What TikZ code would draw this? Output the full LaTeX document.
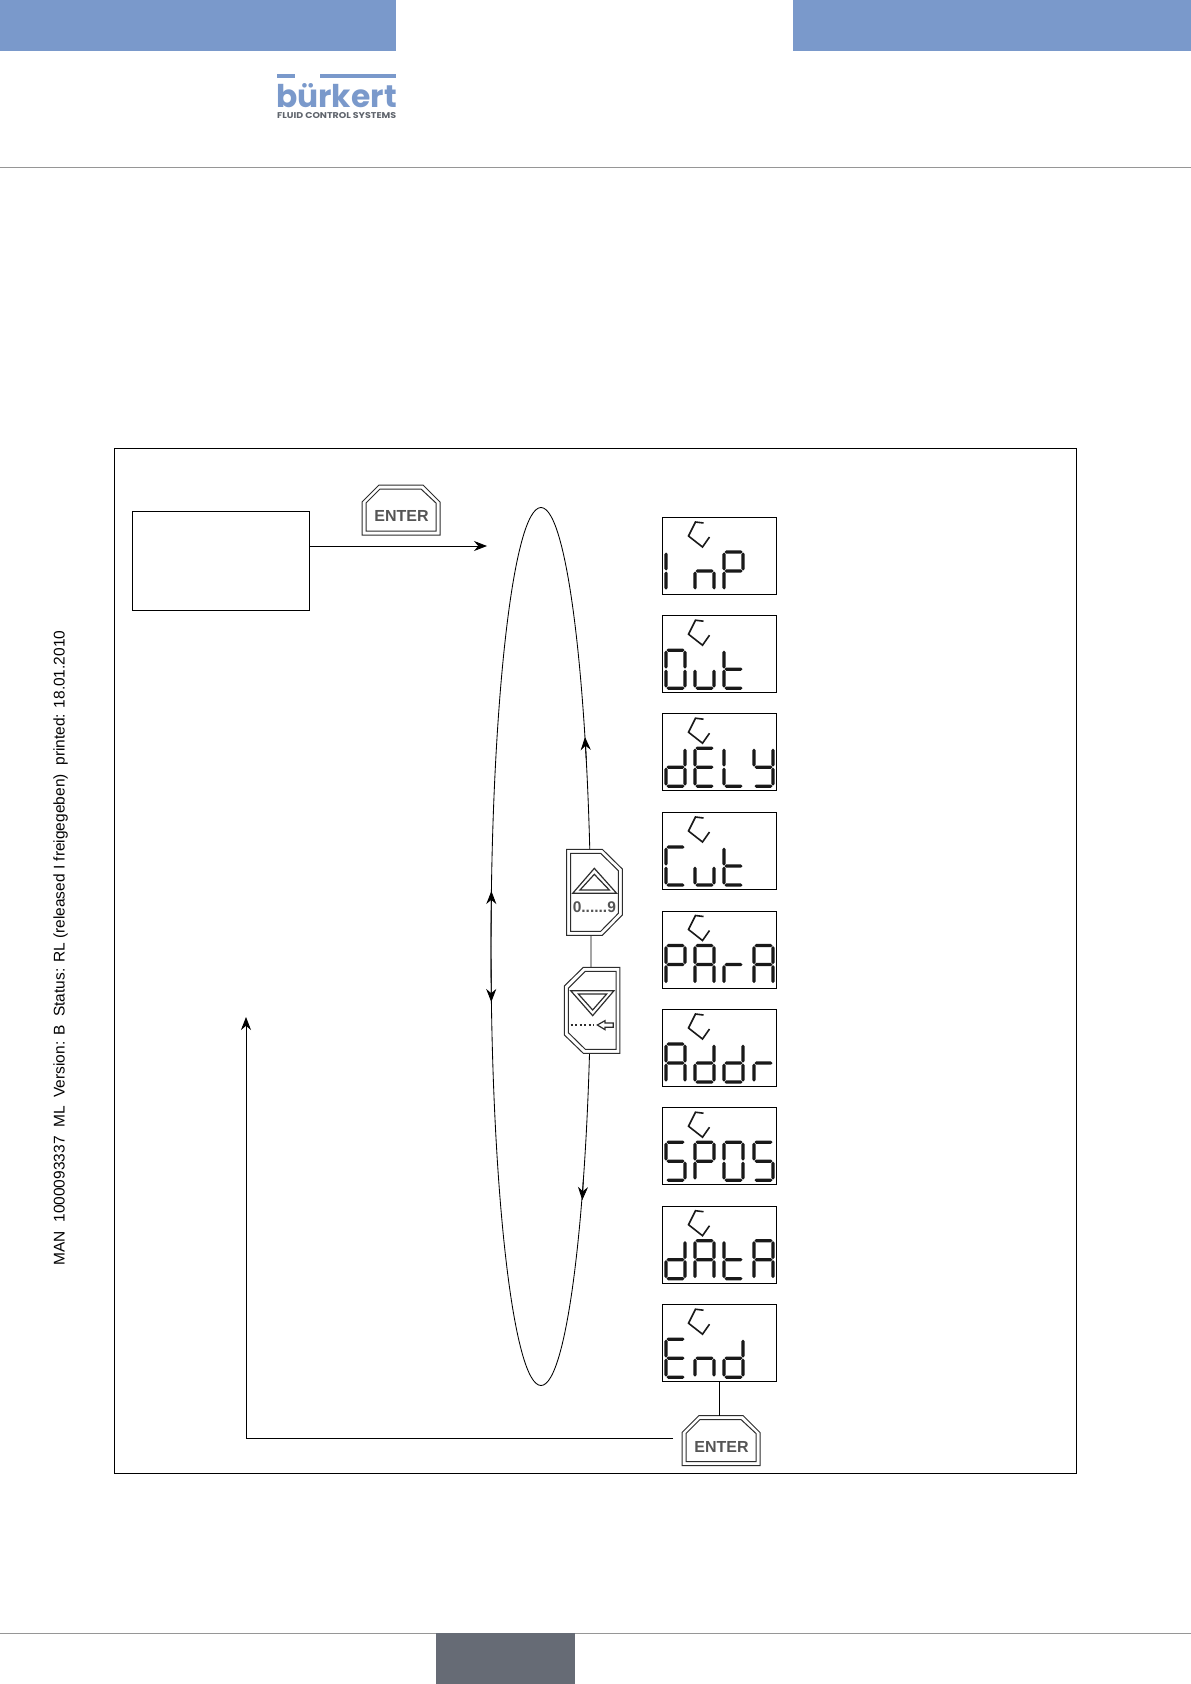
\documentclass[tikz,border=0pt]{standalone}
\usepackage{fontspec}
\setmainfont{Liberation Sans}
\newfontfamily\logofont{Poppins}
\usetikzlibrary{arrows.meta,shapes.geometric}
\definecolor{hdrblue}{RGB}{122,153,203}
\definecolor{ftrgray}{RGB}{102,107,117}
\definecolor{rulegray}{RGB}{150,150,150}
\definecolor{keyink}{RGB}{45,45,45}
\definecolor{keyletter}{RGB}{85,85,85}
\definecolor{seg}{RGB}{25,25,25}
\definecolor{logogray}{RGB}{95,100,108}
% seven-segment elements: width 20, rows at 34, 54, 73 from the display's top
\newcommand{\segH}[3]{\fill[seg] (#1,#3) -- ({#1+1.7},{#3-1.7}) -- ({#2-1.7},{#3-1.7}) -- (#2,#3) -- ({#2-1.7},{#3+1.7}) -- ({#1+1.7},{#3+1.7}) -- cycle;}
\newcommand{\segV}[3]{\fill[seg] (#1,#2) -- ({#1+1.7},{#2+1.7}) -- ({#1+1.7},{#3-1.7}) -- (#1,#3) -- ({#1-1.7},{#3-1.7}) -- ({#1-1.7},{#2+1.7}) -- cycle;}
\newcommand{\SegA}{\segH{1}{19}{35}}
\newcommand{\SegB}{\segV{19.5}{35.5}{53.5}}
\newcommand{\SegC}{\segV{19.5}{54.5}{72.5}}
\newcommand{\SegD}{\segH{1}{19}{73}}
\newcommand{\SegE}{\segV{0.5}{54.5}{72.5}}
\newcommand{\SegF}{\segV{0.5}{35.5}{53.5}}
\newcommand{\SegG}{\segH{1}{19}{54}}
\newcommand{\GlyOne}{\SegE\SegF}
\newcommand{\GlyN}{\SegC\SegE\SegG}
\newcommand{\GlyP}{\SegA\SegB\SegF\SegG\SegE}
\newcommand{\GlyO}{\SegA\SegB\SegC\SegD\SegE\SegF}
\newcommand{\GlyU}{\SegC\SegD\SegE}
\newcommand{\GlyT}{\SegF\SegE\SegG\SegD}
\newcommand{\GlyD}{\SegB\SegC\SegD\SegE\SegG}
\newcommand{\GlyE}{\SegA\SegF\SegG\SegE\SegD}
\newcommand{\GlyL}{\SegF\SegE\SegD}
\newcommand{\GlyY}{\SegF\SegG\SegB\SegC\SegD}
\newcommand{\GlyC}{\SegA\SegF\SegE\SegD}
\newcommand{\GlyA}{\SegA\SegB\SegC\SegE\SegF\SegG}
\newcommand{\GlyR}{\SegE\SegG}
\newcommand{\GlyS}{\SegA\SegF\SegG\SegC\SegD}
\newcommand{\DigAt}[2]{\begin{scope}[shift={(#1,0)}]#2\end{scope}}
\newcommand{\Disp}[6]{%
  \node[dispbox] (#1) at (661.5,#2) {};
  \begin{scope}[shift={(661.5,#2)}]
    \draw[cursor] (42,6) -- (34,5) -- (27,19) -- (41,30) -- (48,20);
    \DigAt{4}{#3}\DigAt{33}{#4}\DigAt{62}{#5}\DigAt{92}{#6}
  \end{scope}}
\newcommand{\EnterKey}[3]{%
  \node[keyanchor] (#1) at (#2,#3) {};
  \begin{scope}[shift={(#2,#3)}]
    \draw[keyline,fill=white] (0,17) -- (17,0) -- (61,0) -- (78,17) -- (78,50) -- (0,50) -- cycle;
    \draw[keyline] (4,18) -- (18,4) -- (59,4) -- (74,18) -- (74,46) -- (4,46) -- cycle;
    \node[keytext] (#1t) at (39.5,31) {ENTER};
  \end{scope}}
\tikzset{
  x=1pt,y=-1pt,
  dispbox/.style={draw=black,line width=0.9pt,rectangle,anchor=north west,minimum width=114pt,minimum height=77pt,inner sep=0pt},
  cursor/.style={draw=black!90,line width=1.6pt,miter limit=3},
  keyanchor/.style={anchor=north west,minimum width=78pt,minimum height=50pt,inner sep=0pt,rectangle},
  keyline/.style={draw=keyink,line width=1pt,line join=miter},
  keytext/.style={text=keyletter,font=\fontsize{16}{16}\selectfont\bfseries,inner sep=0pt},
  conn/.style={draw=black,line width=0.85pt},
  arw/.style={conn,-{Stealth[length=13pt,width=10pt]}},
  loopshape/.style={ellipse,draw=black,line width=0.85pt,minimum width=100pt,minimum height=878pt,inner sep=0pt},
}
\begin{document}
\begin{tikzpicture}
\useasboundingbox (0,0) rectangle (1191,1684);
% page furniture
\fill[hdrblue] (0,0) rectangle (396,51);
\fill[hdrblue] (793,0) rectangle (1191,51);
\draw[rulegray,line width=1pt] (0,167) -- (1191,167);
\draw[rulegray,line width=1pt] (0,1633.5) -- (1191,1633.5);
\fill[ftrgray] (436,1633) rectangle (575,1684);
% logo
\fill[hdrblue] (277,74) rectangle (295,78);
\fill[hdrblue] (320,74) rectangle (396,78);
\node[anchor=base west,inner sep=0pt,text=hdrblue] (logo) at (276,107) {\resizebox{120.5pt}{!}{\logofont\bfseries b\"urkert}};
\node[anchor=base west,inner sep=0pt,text=logogray] (logosub) at (277,118) {\resizebox{119pt}{6pt}{\logofont\bfseries FLUID CONTROL SYSTEMS}};
% side text
\node[rotate=90,inner sep=0pt,font=\fontsize{15.5}{15.5}\selectfont] (sidetext) at (60.5,948) {MAN\ \ 1000093337\ \ ML\ \ Version: B\ \ Status: RL (released I freigegeben)\ \ printed: 18.01.2010};
% frame
\draw[black,line width=0.85pt] (114.5,448.5) rectangle (1076,1473);
% empty box
\node[draw=black,line width=0.85pt,rectangle,anchor=north west,minimum width=177pt,minimum height=99pt,inner sep=0pt] (startbox) at (132,511) {};
% ellipse
\node[loopshape] (loop) at (541,946.5) {};
% loop arrows
\coordinate (tipin) at (487,546);
\draw[arw] (startbox.east |- tipin) -- (tipin);
\coordinate (upA) at (586.3,760); \coordinate (upB) at (585,737);
\draw[arw] (upA) -- (upB);
\coordinate (dnA) at (583.3,1180); \coordinate (dnB) at (582.3,1200);
\draw[arw] (dnA) -- (dnB);
\coordinate (lmid) at (491,946);
\coordinate (ltop) at (491.4,891); \coordinate (lbot) at (491.3,1002);
\draw[arw] (lmid) -- (ltop);
\draw[arw] (lmid) -- (lbot);
% displays
\Disp{dInp}{517}{\GlyOne}{\GlyN}{\GlyP}{}
\Disp{dOut}{615.2}{\GlyO}{\GlyU}{\GlyT}{}
\Disp{dDely}{713.2}{\GlyD}{\GlyE}{\GlyL}{\GlyY}
\Disp{dCut}{812}{\GlyC}{\GlyU}{\GlyT}{}
\Disp{dPara}{910.5}{\GlyP}{\GlyA}{\GlyR}{\GlyA}
\Disp{dAddr}{1009}{\GlyA}{\GlyD}{\GlyD}{\GlyR}
\Disp{dSpos}{1107.2}{\GlyS}{\GlyP}{\GlyO}{\GlyS}
\Disp{dData}{1205.7}{\GlyD}{\GlyA}{\GlyT}{\GlyA}
\Disp{dEnd}{1304.2}{\GlyE}{\GlyN}{\GlyD}{}
% enter keys
\EnterKey{enterA}{362}{485}
\EnterKey{enterB}{682}{1415.5}
\draw[conn] (dEnd.south) -- (dEnd.south |- enterB.north);
\coordinate (retS) at (673,1438);
\coordinate (retT) at (246,1017);
\draw[arw] (retS) -| (retT);
% up key
\begin{scope}[shift={(550,830)},x=0.3333pt,y=-0.3333pt]
  \draw[keyline,fill=white] (50,58) -- (157,58) -- (217,117) -- (217,255) -- (157,316) -- (50,316) -- cycle;
  \draw[keyline] (62,70) -- (152,70) -- (205,122) -- (205,250) -- (152,304) -- (62,304) -- cycle;
  \draw[keyline,line width=1.2pt] (133,115) -- (200,190) -- (68,190) -- cycle;
  \draw[keyline,line width=1.2pt] (133,133) -- (178,180) -- (90,180) -- cycle;
  \node[keytext,font=\fontsize{15.5}{15.5}\selectfont\bfseries] (upkey) at (133,230) {0......9};
\end{scope}
% down key
\begin{scope}[shift={(550,830)},x=0.3333pt,y=-0.3333pt]
  \draw[keyline,fill=white] (100,412) -- (210,412) -- (210,670) -- (100,670) -- (43,615) -- (43,468) -- cycle;
  \draw[keyline] (106,424) -- (198,424) -- (198,658) -- (106,658) -- (55,608) -- (55,475) -- cycle;
  \draw[keyline,line width=1.2pt] (62,482) -- (192,482) -- (128,557) -- cycle;
  \draw[keyline,line width=1.2pt] (85,492) -- (170,492) -- (128,540) -- cycle;
  \draw[keyink,line width=1.6pt,dash pattern=on 2pt off 2.5pt] (62,585) -- (132,585);
  \draw[keyline,line width=1.2pt] (142,585) -- (165,572) -- (165,579) -- (190,579) -- (190,592) -- (165,592) -- (165,599) -- cycle;
\end{scope}
\end{tikzpicture}
\end{document}
